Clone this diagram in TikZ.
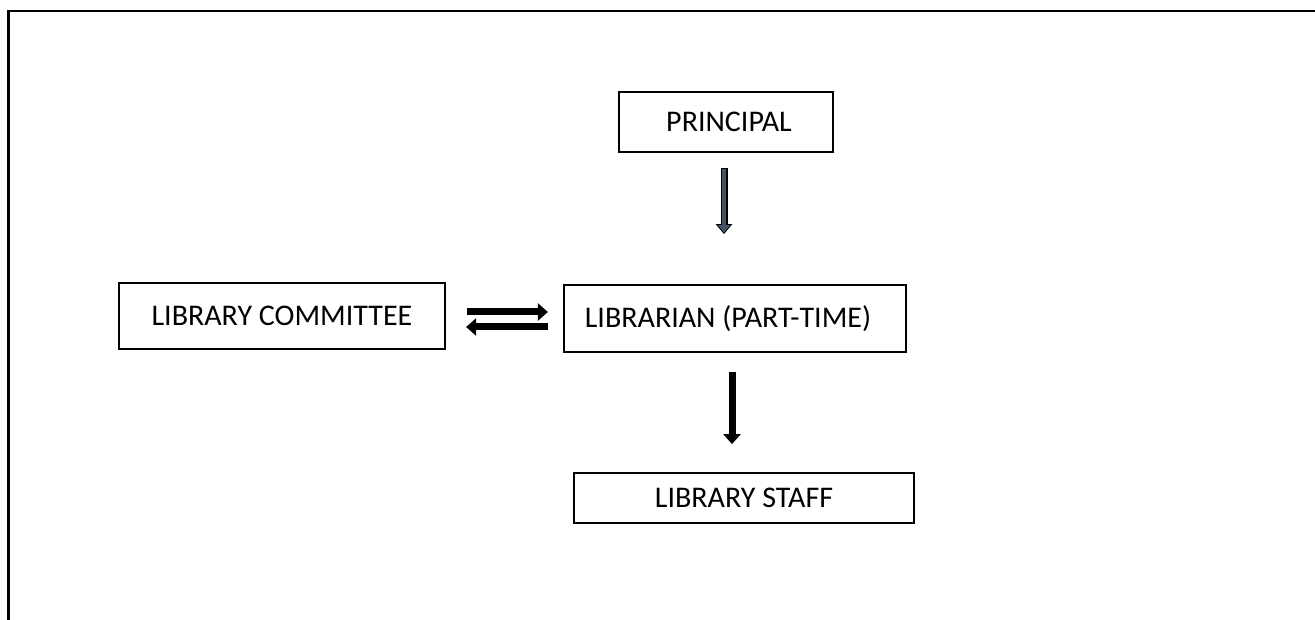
\documentclass[tikz,border=0pt]{standalone}
\usepackage{fontspec}
\setmainfont{Carlito}
\usetikzlibrary{arrows.meta,calc}
\definecolor{slate}{HTML}{44546A}
\tikzset{
  box/.style={draw=black, line width=2.2pt, rectangle, inner sep=0pt, font=\fontsize{30}{36}\selectfont},
  blockarrow/.style={line width=7pt, -{Triangle[width=17pt,length=10pt]}},
}
\begin{document}
\begin{tikzpicture}[x=1pt,y=-1pt]
\useasboundingbox (0,0) rectangle (1315,620);
% frame
\draw[line width=2.2pt] (8.5,620) -- (8.5,11) -- (1315,11);
% boxes
\node[box, minimum width=214pt, minimum height=60pt] (principal) at (726,122) {\hspace*{6pt}PRINCIPAL};
\node[box, minimum width=326pt, minimum height=66pt] (committee) at (282,316) {LIBRARY COMMITTEE};
\node[box, minimum width=342pt, minimum height=67pt] (librarian) at (735,318.5) {LIBRARIAN (PART-TIME)\hspace*{14pt}};
\node[box, minimum width=340pt, minimum height=50pt] (staff) at (744,498) {LIBRARY STAFF};
% principal -> librarian (outlined dark arrow)
\draw[line width=7pt, black, -{Triangle[width=16pt,length=10pt]}]
  ($(principal.south)+(-2,15)$) -- ($(principal.south)+(-2,81)$);
\draw[line width=4.5pt, slate, -{Triangle[width=12pt,length=7.5pt]}]
  ($(principal.south)+(-2,16)$) -- ($(principal.south)+(-2,79.5)$);
% committee <-> librarian
\draw[blockarrow] ($(committee.east)+(21,-4)$) -- ($(librarian.west)+(-15,-6.5)$);
\draw[blockarrow] ($(librarian.west)+(-15,8.5)$) -- ($(committee.east)+(20,11)$);
% librarian -> staff
\draw[blockarrow] ($(librarian.south)+(-3,19)$) -- ($(librarian.south)+(-3,91)$);
\end{tikzpicture}
\end{document}
